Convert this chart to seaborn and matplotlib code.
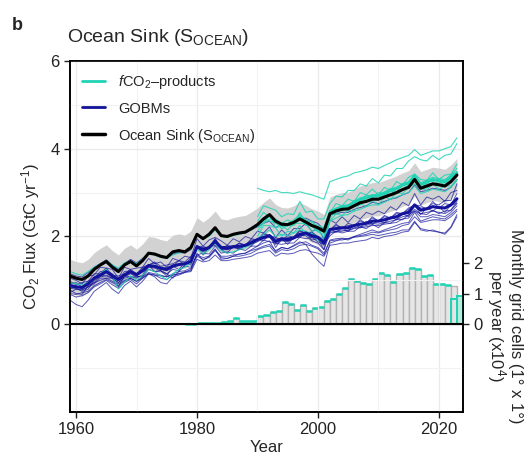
import numpy as np
import pandas as pd
import seaborn as sns
import matplotlib.pyplot as plt
from matplotlib.lines import Line2D

# ---- data ----
years = list(range(1959, 2024))
years_prod = list(range(1990, 2024))
years_cells = list(range(1978, 2024))

# ocean sink (black), GtC/yr
sink = [1.10,
        1.05, 1.02, 1.10, 1.25, 1.35, 1.43, 1.30, 1.20, 1.35, 1.43,
        1.33, 1.45, 1.62, 1.60, 1.55, 1.52, 1.65, 1.68, 1.65, 1.75,
        2.05, 1.95, 2.05, 2.20, 2.02, 2.00, 2.05, 2.08, 2.10, 2.18,
        2.27, 2.40, 2.50, 2.35, 2.28, 2.27, 2.32, 2.40, 2.33, 2.25,
        2.20, 2.12, 2.52, 2.58, 2.62, 2.63, 2.70, 2.77, 2.80, 2.85,
        2.85, 2.90, 2.95, 3.00, 3.07, 3.12, 3.30, 3.10, 3.15, 3.20,
        3.18, 3.15, 3.25, 3.40]
sink_unc = 0.38

# GOBM ensemble mean
gobm_mean = [0.88,
             0.85, 0.84, 0.92, 1.05, 1.12, 1.20, 1.10, 1.02, 1.12, 1.20,
             1.13, 1.22, 1.34, 1.32, 1.28, 1.25, 1.33, 1.36, 1.38, 1.43,
             1.77, 1.70, 1.75, 1.89, 1.75, 1.74, 1.77, 1.78, 1.80, 1.86,
             1.93, 1.98, 2.02, 1.89, 1.95, 1.93, 1.97, 2.05, 2.08, 2.02,
             1.98, 1.86, 2.16, 2.18, 2.20, 2.20, 2.25, 2.28, 2.30, 2.35,
             2.35, 2.38, 2.42, 2.45, 2.52, 2.55, 2.72, 2.60, 2.63, 2.68,
             2.66, 2.65, 2.72, 2.86]

# fCO2-products ensemble mean (1990-2023)
prod_mean = [2.25, 2.38, 2.48, 2.32, 2.28, 2.27, 2.32, 2.42, 2.32, 2.25,
             2.20, 2.12, 2.55, 2.62, 2.68, 2.70, 2.78, 2.85, 2.88, 2.93,
             2.93, 2.98, 3.04, 3.10, 3.17, 3.22, 3.38, 3.18, 3.24, 3.30,
             3.27, 3.25, 3.35, 3.45]

# individual GOBMs, 1959-2023
gobm_runs = {
    'G1': """1.15 1.10 1.08 1.18 1.30 1.38 1.47 1.35 1.25 1.38 1.48 1.40 1.50 1.62 1.58 1.55 1.50 1.60 1.64 1.62 1.70
             2.05 1.98 2.02 2.18 2.02 2.00 2.05 2.08 2.10 2.15 2.22 2.30 2.35 2.20 2.28 2.25 2.30 2.40 2.42 2.35
             2.30 2.15 2.50 2.52 2.55 2.55 2.62 2.66 2.70 2.78 2.75 2.80 2.85 2.88 2.95 3.00 3.18 3.02 3.05 3.10
             3.08 3.05 3.12 3.30""",
    'G2': """1.05 1.00 0.92 1.10 1.12 1.30 1.28 1.25 1.05 1.30 1.25 1.28 1.30 1.50 1.38 1.42 1.30 1.50 1.45 1.55 1.52
             1.95 1.78 1.92 1.98 1.90 1.80 1.95 1.88 2.00 1.95 2.12 2.08 2.22 1.98 2.15 2.02 2.18 2.18 2.30 2.12
             2.18 1.95 2.38 2.30 2.45 2.32 2.48 2.40 2.55 2.50 2.58 2.52 2.68 2.60 2.78 2.70 2.98 2.72 2.90 2.85
             2.92 2.80 3.00 3.05""",
    'G3': """0.92 0.95 0.85 0.98 1.05 1.20 1.22 1.15 1.00 1.20 1.22 1.12 1.28 1.35 1.40 1.25 1.30 1.32 1.45 1.35 1.52
             1.75 1.78 1.72 1.95 1.72 1.80 1.76 1.85 1.80 1.95 1.92 2.08 2.02 1.98 1.92 2.02 1.98 2.15 2.05 2.10
             1.95 1.92 2.15 2.28 2.18 2.30 2.25 2.38 2.30 2.45 2.35 2.48 2.42 2.55 2.52 2.65 2.72 2.70 2.62 2.80
             2.65 2.75 2.72 2.98""",
    'G4': """0.78 0.70 0.68 0.88 0.95 1.10 1.12 1.05 0.85 1.10 1.08 1.05 1.12 1.35 1.20 1.22 1.10 1.32 1.25 1.40 1.35
             1.80 1.58 1.75 1.80 1.70 1.62 1.78 1.70 1.80 1.78 1.95 1.90 2.05 1.75 1.95 1.82 1.98 1.98 2.10 1.92
             1.95 1.70 2.18 2.10 2.20 2.12 2.28 2.20 2.35 2.28 2.36 2.30 2.45 2.38 2.52 2.45 2.72 2.50 2.65 2.58
             2.68 2.55 2.72 2.75""",
    'G5': """0.72 0.80 0.78 0.85 0.92 1.05 1.05 1.05 0.95 1.05 1.08 1.08 1.10 1.25 1.20 1.22 1.15 1.25 1.22 1.32 1.30
             1.58 1.62 1.60 1.78 1.62 1.65 1.62 1.72 1.68 1.78 1.78 1.92 1.88 1.85 1.82 1.85 1.85 1.98 1.95 1.98
             1.88 1.82 2.02 2.12 2.08 2.12 2.12 2.22 2.18 2.28 2.20 2.32 2.30 2.40 2.38 2.50 2.58 2.52 2.50 2.60
             2.52 2.58 2.60 2.80""",
    'G6': """0.68 0.62 0.65 0.72 0.85 0.92 1.00 0.90 0.82 0.95 1.02 0.92 1.05 1.15 1.12 1.05 1.02 1.12 1.15 1.20 1.22
             1.55 1.48 1.52 1.68 1.52 1.50 1.55 1.55 1.58 1.62 1.70 1.75 1.78 1.62 1.70 1.68 1.72 1.80 1.82 1.78
             1.72 1.58 1.92 1.95 1.96 1.95 2.00 2.02 2.05 2.10 2.08 2.12 2.15 2.18 2.25 2.28 2.45 2.32 2.35 2.38
             2.38 2.36 2.45 2.58""",
    'G7': """0.55 0.45 0.40 0.55 0.75 0.85 0.95 0.80 0.70 0.88 0.98 0.85 0.98 1.15 1.08 0.95 0.92 1.08 1.12 1.18 1.25
             1.62 1.45 1.55 1.72 1.48 1.50 1.55 1.60 1.62 1.70 1.78 1.85 1.90 1.65 1.75 1.72 1.80 1.88 1.82 1.60
             1.45 1.32 1.85 1.90 1.95 1.92 2.00 2.05 2.10 2.15 2.10 2.15 2.20 2.25 2.30 2.32 2.55 2.35 2.40 2.45
             2.42 2.40 2.50 2.62""",
    'G8': """0.82 0.80 0.78 0.85 0.95 1.00 1.05 0.98 0.92 1.00 1.05 0.98 1.05 1.15 1.12 1.10 1.08 1.12 1.15 1.18 1.20
             1.48 1.42 1.45 1.58 1.45 1.45 1.48 1.50 1.52 1.55 1.62 1.65 1.68 1.55 1.62 1.60 1.62 1.68 1.70 1.65
             1.62 1.55 1.80 1.82 1.85 1.85 1.88 1.90 1.92 1.98 1.95 2.00 2.02 2.05 2.10 2.12 2.32 2.18 2.15 2.12
             2.10 2.05 2.20 2.45""",
    'G9': """0.98 0.90 0.95 0.98 1.15 1.15 1.28 1.12 1.10 1.15 1.25 1.15 1.30 1.35 1.42 1.32 1.35 1.38 1.45 1.42 1.55
             1.75 1.75 1.75 1.95 1.75 1.78 1.75 1.85 1.80 1.92 1.92 2.05 2.02 1.95 1.92 1.98 1.98 2.12 2.08 2.10
             2.00 1.95 2.15 2.25 2.20 2.25 2.25 2.35 2.30 2.42 2.35 2.45 2.42 2.52 2.52 2.62 2.72 2.65 2.65 2.75
             2.72 2.82 2.82 3.20""",
    'G10': """0.85 0.82 0.75 0.80 1.00 1.08 1.10 1.05 0.95 1.08 1.15 1.08 1.10 1.30 1.28 1.22 1.15 1.05 1.20 1.35 1.45
              1.78 1.65 1.72 1.88 1.72 1.70 1.75 1.72 1.80 1.88 1.92 1.98 2.02 1.85 1.92 1.88 1.95 2.00 2.05 1.98
              1.95 1.80 2.10 2.12 2.15 2.12 2.20 2.22 2.25 2.30 2.28 2.32 2.35 2.38 2.45 2.48 2.62 2.52 2.55 2.58
              2.55 2.52 2.60 2.75""",
    'G11': """0.90 0.88 0.80 0.92 1.08 1.10 1.18 1.08 1.00 1.10 1.18 1.10 1.20 1.32 1.30 1.25 1.22 1.30 1.35 1.38 1.42
              1.72 1.68 1.72 1.85 1.70 1.70 1.74 1.75 1.78 1.82 1.88 1.95 1.98 1.82 1.90 1.90 1.95 2.02 2.02 1.90
              1.85 1.70 2.08 2.10 2.12 2.15 2.18 2.20 2.22 2.25 2.25 2.28 2.30 2.32 2.40 2.42 2.58 2.45 2.45 2.50
              2.48 2.45 2.55 2.70""",
    'G12': """0.70 0.68 0.72 0.75 0.88 0.95 1.02 0.95 0.88 0.98 1.05 0.98 1.08 1.18 1.15 1.12 1.08 1.15 1.20 1.22 1.28
              1.58 1.52 1.55 1.70 1.55 1.55 1.58 1.60 1.62 1.68 1.72 1.78 1.82 1.68 1.75 1.72 1.78 1.85 1.88 1.80
              1.75 1.62 1.90 1.92 1.92 1.95 1.98 2.00 2.02 2.05 2.02 2.05 2.08 2.10 2.15 2.15 2.35 2.15 2.12 2.15
              2.10 2.08 2.22 2.50""",
}

# individual fCO2-products (P8, P9 start in 1959, the rest in 1990)
prod_runs = {
    'P1': """3.10 3.05 3.02 3.05 3.00 3.00 2.98 3.02 2.98 2.95 2.90 2.85 3.25 3.30 3.35 3.38 3.45 3.48 3.52 3.58
             3.55 3.62 3.68 3.75 3.80 3.85 3.98 3.85 3.90 3.95 3.95 4.00 4.05 4.25""",
    'P2': """2.45 2.70 2.65 2.60 2.45 2.52 2.50 2.80 2.55 2.58 2.40 2.40 2.75 2.92 2.90 3.05 3.05 3.20 3.15 3.32
             3.22 3.40 3.38 3.55 3.55 3.72 3.82 3.75 3.72 3.85 3.75 3.85 3.88 4.12""",
    'P3': """2.35 2.55 2.45 2.40 2.30 2.38 2.30 2.55 2.32 2.35 2.18 2.20 2.55 2.75 2.70 2.85 2.80 3.00 2.95 3.08
             2.95 3.12 3.05 3.25 3.18 3.35 3.42 3.30 3.28 3.45 3.30 3.40 3.42 3.65""",
    'P4': """2.20 2.30 2.50 2.20 2.25 2.15 2.30 2.30 2.30 2.12 2.15 1.98 2.55 2.50 2.65 2.60 2.78 2.72 2.88 2.82
             2.92 2.88 3.05 3.00 3.18 3.12 3.40 3.08 3.22 3.20 3.25 3.18 3.32 3.38""",
    'P5': """2.00 2.25 2.25 2.20 2.00 2.12 2.08 2.25 2.05 2.08 1.92 1.85 2.35 2.52 2.48 2.60 2.58 2.75 2.68 2.82
             2.72 2.90 2.85 3.00 2.98 3.12 3.20 3.10 3.05 3.20 3.08 3.15 3.15 3.30""",
    'P6': """2.28 2.42 2.35 2.32 2.18 2.25 2.25 2.40 2.28 2.25 2.12 2.12 2.60 2.58 2.70 2.68 2.82 2.80 2.95 2.90
             3.00 2.98 3.10 3.08 3.20 3.18 3.42 3.15 3.28 3.25 3.32 3.22 3.40 3.48""",
    'P7': """2.12 2.30 2.40 2.35 2.22 2.25 2.28 2.48 2.25 2.25 2.10 2.05 2.42 2.60 2.58 2.70 2.68 2.82 2.78 2.90
             2.82 2.95 2.95 3.08 3.05 3.18 3.28 3.12 3.10 3.22 3.15 3.18 3.25 3.45""",
    'P8': """0.95 0.92 0.90 0.95 1.05 1.15 1.25 1.10 0.80 0.95 1.10 1.00 1.12 1.25 1.20 1.10 1.02 1.15 1.25 1.30 1.40
             1.72 1.60 1.70 1.85 1.68 1.62 1.65 1.70 1.75 1.82 1.95 2.05 2.15 2.00 2.05 2.02 2.08 2.15 2.12 2.05
             2.00 1.95 2.35 2.42 2.48 2.50 2.58 2.62 2.68 2.72 2.72 2.78 2.85 2.90 2.95 3.00 3.15 2.98 3.02 3.08
             3.05 3.02 3.12 3.28""",
    'P9': """1.20 1.15 1.12 1.20 1.30 1.38 1.45 1.35 1.28 1.40 1.45 1.38 1.48 1.60 1.58 1.52 1.50 1.58 1.62 1.65 1.72
             2.02 1.95 2.00 2.15 2.00 1.98 2.02 2.05 2.08 2.15 2.25 2.38 2.48 2.32 2.28 2.30 2.38 2.50 2.38 2.32
             2.25 2.20 2.58 2.65 2.70 2.72 2.80 2.88 2.92 2.95 2.95 3.02 3.08 3.12 3.20 3.25 3.42 3.22 3.28 3.35
             3.32 3.30 3.40 3.55""",
}

# monthly 1x1 grid cells per year (x10^4), grey bars and turquoise steps
cells_grey = [0.02, 0.02, 0.05, 0.03, 0.03, 0.03, 0.06, 0.11, 0.19, 0.11, 0.11, 0.11,
              0.26, 0.32, 0.40, 0.44, 0.73, 0.68, 0.48, 0.62, 0.45, 0.55,
              0.57, 0.78, 0.84, 0.98, 1.18, 1.49, 1.41, 1.36, 1.32, 1.49,
              1.67, 1.61, 1.38, 1.64, 1.67, 1.84, 1.82, 1.57, 1.61, 1.32,
              1.32, 1.29, 1.27, 0.0]
cells_turq = cells_grey[:-2] + [0.83, 0.93]

# ---- long tables for seaborn ----
rows = []
for name, s in gobm_runs.items():
    v = [float(x) for x in s.split()]
    rows += [(name, y, f) for y, f in zip(years, v)]
df_gobm = pd.DataFrame(rows, columns=['model', 'year', 'flux'])

rows = []
for name, s in prod_runs.items():
    v = [float(x) for x in s.split()]
    yrs = years if len(v) == len(years) else years_prod
    rows += [(name, y, f) for y, f in zip(yrs, v)]
df_prod = pd.DataFrame(rows, columns=['model', 'year', 'flux'])

df_sink = pd.DataFrame({'year': years, 'sink': sink, 'gobm': gobm_mean})
df_pm = pd.DataFrame({'year': years_prod, 'prod': prod_mean})

# ---- style ----
sns.set_theme(style='white')
plt.rcParams['font.family'] = ['Liberation Sans', 'DejaVu Sans']
plt.rcParams['mathtext.fontset'] = 'custom'
plt.rcParams['mathtext.rm'] = 'Liberation Sans'
plt.rcParams['mathtext.it'] = 'Liberation Sans:italic'
plt.rcParams['mathtext.bf'] = 'Liberation Sans:bold'

turq = '#1fd3b4'
navy = '#12129a'

fig = plt.figure(figsize=(5.32, 4.66), dpi=100)
ax = fig.add_axes([0.1316, 0.1159, 0.7387, 0.7532])

ax.fill_between(df_sink['year'], df_sink['sink'] - sink_unc, df_sink['sink'] + sink_unc,
                color='#d2d2d2', lw=0, zorder=1)
sns.lineplot(data=df_gobm, x='year', y='flux', units='model', estimator=None,
             color=navy, lw=0.7, alpha=0.7, ax=ax, legend=False, zorder=2)
sns.lineplot(data=df_prod, x='year', y='flux', units='model', estimator=None,
             color=turq, lw=0.8, alpha=0.85, ax=ax, legend=False, zorder=2)
sns.lineplot(data=df_sink, x='year', y='gobm', color=navy, lw=2.2, ax=ax, zorder=3)
sns.lineplot(data=df_pm, x='year', y='prod', color=turq, lw=2.0, ax=ax, zorder=3)
sns.lineplot(data=df_sink, x='year', y='sink', color='black', lw=2.2, ax=ax, zorder=4)
ax.axhline(0, color='black', lw=1.5, zorder=2)

ax.set_xlim(1959, 2024)
ax.set_ylim(-2, 6)
ax.set_xticks([1960, 1980, 2000, 2020])
ax.set_xticks([1970, 1990, 2010], minor=True)
ax.set_yticks([0, 2, 4, 6])
ax.set_yticks([-1, 1, 3, 5], minor=True)
ax.grid(which='major', color='#ebebeb', lw=1.0, zorder=0)
ax.grid(which='minor', color='#f2f2f2', lw=0.8, zorder=0)
ax.set_axisbelow(True)
ax.tick_params(which='major', direction='out', length=4, width=1, colors='#222222',
               labelsize=12, left=True, bottom=True)
ax.tick_params(which='minor', length=0)
ax.set_xlabel('Year', fontsize=12, labelpad=2)
ax.set_ylabel('CO$_2$ Flux (GtC yr$^{-1}$)', fontsize=12, labelpad=6)
for sp in ax.spines.values():
    sp.set_color('black')
    sp.set_linewidth(1.2)

# secondary axis: monthly grid cells
k = 30.5 / 44.0
ax2 = ax.twinx()
ax2.set_ylim(-2 / k, 6 / k)
ax2.bar(years_cells, cells_grey, width=1, align='edge', color='#e6e6e6',
        edgecolor='#b3b3b3', lw=1.0, zorder=2)
ax2.hlines(cells_turq[:-2], years_cells[:-2], [y + 1 for y in years_cells[:-2]],
           color=turq, lw=1.8, zorder=3)
ax2.bar(years_cells[-2:-1], cells_turq[-2:-1], width=1, align='edge', fill=False,
        edgecolor=turq, lw=1.4, zorder=3)
ax2.bar(years_cells[-1:], cells_turq[-1:], width=1, align='edge', color='#b5eedf',
        edgecolor=turq, lw=1.4, zorder=3)
ax2.set_yticks([0, 1, 2])
ax2.grid(False)
ax2.tick_params(direction='out', length=4, width=1, colors='#222222', labelsize=12, right=True)
for sp in ax2.spines.values():
    sp.set_color('black')
    sp.set_linewidth(1.2)
ax.set_zorder(ax2.get_zorder() + 1)
ax.patch.set_visible(False)
ax2.patch.set_visible(True)
ax2.patch.set_facecolor('white')

fig.text(0.948, 0.30, 'Monthly grid cells (1° x 1°)\nper year (x10$^4$)', rotation=270,
         ha='center', va='center', multialignment='center', fontsize=12, linespacing=1.0)

# legend
handles = [Line2D([], [], color=turq, lw=2),
           Line2D([], [], color=navy, lw=2),
           Line2D([], [], color='black', lw=2.5)]
labels = ['$\\mathit{f}$CO$_2$–products', 'GOBMs', 'Ocean Sink (S$_{\\mathregular{OCEAN}}$)']
ax.legend(handles, labels, loc='upper left', bbox_to_anchor=(0.0, 1.0), frameon=False,
          fontsize=10.5, handlelength=1.6, handletextpad=0.9, labelspacing=0.75,
          borderaxespad=0.4)

fig.text(0.126, 0.897, 'Ocean Sink (S$_{\\mathregular{OCEAN}}$)', fontsize=14, ha='left', va='bottom')
fig.text(0.022, 0.945, 'b', fontsize=13, fontweight='bold', ha='left', va='center')

fig.savefig('out.png', dpi=100)
